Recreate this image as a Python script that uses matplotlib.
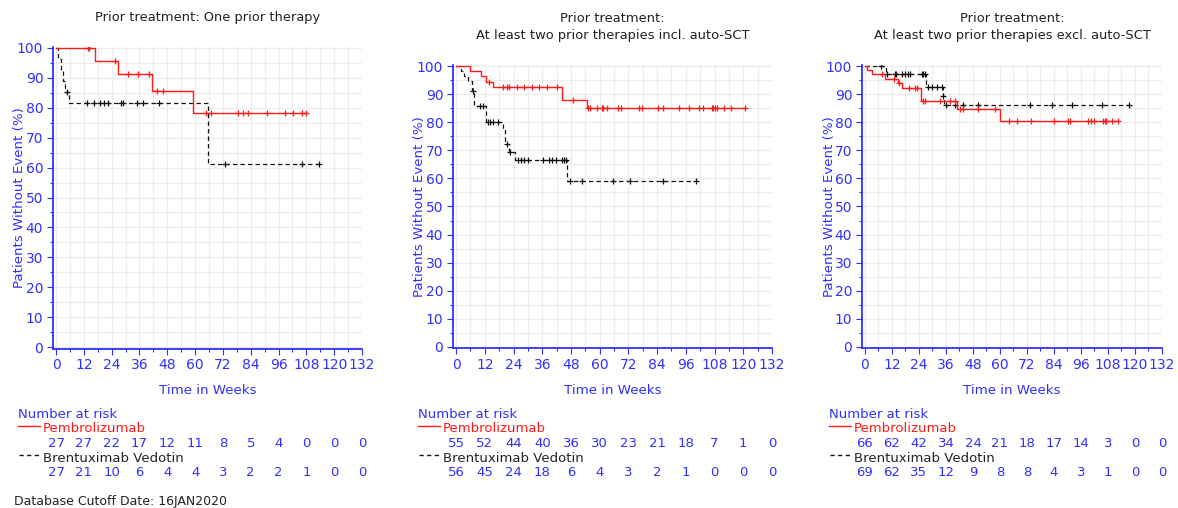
import numpy as np
import matplotlib
matplotlib.use("Agg")
import matplotlib.pyplot as plt
import matplotlib.transforms as mtransforms
from matplotlib.lines import Line2D
from matplotlib.ticker import MultipleLocator

plt.rcParams['font.family'] = ['DejaVu Sans']

# ---------------- data ----------------
titles = ["Prior treatment: One prior therapy",
          "Prior treatment:\n At least two prior therapies incl. auto-SCT",
          "Prior treatment:\n At least two prior therapies excl. auto-SCT"]
arms = ["Pembrolizumab", "Brentuximab Vedotin"]
risk_times = [0, 12, 24, 36, 48, 60, 72, 84, 96, 108, 120, 132]

# Panel 1
p1_pem_t = [0, 16.8, 26.7, 41.3, 59.0]
p1_pem_s = [100, 95.7, 91.2, 85.5, 78.2]
p1_pem_end = 107.8
p1_pem_c = [13.7, 14.2, 25.5, 31.2, 35.2, 40.1, 43.4, 46.3, 64.7, 66.9, 78.6,
            80.8, 83.0, 90.9, 98.8, 102.4, 106.0, 107.8]
p1_bv_t = [0, 1.0, 2.0, 3.0, 4.0, 5.8, 65.7]
p1_bv_s = [100, 96.3, 92.6, 88.9, 85.2, 81.5, 61.1]
p1_bv_end = 113.5
p1_bv_c = [4.6, 13.5, 16.4, 19.0, 20.8, 22.6, 28.0, 29.0, 34.8, 37.7, 44.4,
           72.9, 106.0, 113.5]
p1_pem_risk = [27, 27, 22, 17, 12, 11, 8, 5, 4, 0, 0, 0]
p1_bv_risk = [27, 21, 10, 6, 4, 4, 3, 2, 2, 1, 0, 0]

# Panel 2
p2_pem_t = [0, 6.0, 10.5, 12.5, 15.5, 44.1, 54.6]
p2_pem_s = [100, 98.2, 96.3, 94.4, 92.5, 87.8, 85.1]
p2_pem_end = 120.7
p2_pem_c = [13.9, 19.5, 21.2, 22.3, 25.3, 28.4, 31.6, 34.8, 38.1, 42.3, 48.7,
            55.3, 56.0, 58.8, 60.9, 61.5, 63.2, 67.8, 68.8, 76.6, 77.6, 84.5,
            86.4, 93.3, 97.5, 101.3, 103.0, 106.8, 107.5, 108.2, 108.9, 112.0,
            114.9, 120.7]
p2_bv_t = [0, 2.0, 3.5, 5.0, 6.5, 7.6, 12.6, 19.5, 20.5, 22.0, 24.5, 46.4]
p2_bv_s = [100, 98.2, 96.4, 94.6, 91.0, 85.7, 80.2, 77.3, 72.1, 69.4, 66.5, 59.1]
p2_bv_end = 100.3
p2_bv_c = [7.2, 10.0, 11.1, 13.5, 14.2, 15.6, 17.7, 21.2, 22.6, 26.0, 27.0,
           28.4, 30.2, 36.5, 39.0, 40.0, 41.8, 44.1, 45.1, 46.0, 47.6, 52.5,
           65.7, 72.7, 86.6, 100.3]
p2_pem_risk = [55, 52, 44, 40, 36, 30, 23, 21, 18, 7, 1, 0]
p2_bv_risk = [56, 45, 24, 18, 6, 4, 3, 2, 1, 0, 0, 0]

# Panel 3
p3_pem_t = [0, 0.7, 3.0, 8.9, 14.5, 16.5, 24.8, 41.0, 60.0]
p3_pem_s = [100, 98.5, 97.0, 95.4, 93.8, 92.2, 87.6, 84.6, 80.6]
p3_pem_end = 112.3
p3_pem_c = [7.4, 13.0, 15.0, 19.7, 22.2, 23.0, 25.7, 26.7, 33.4, 37.8, 40.0,
            42.3, 43.7, 50.4, 57.8, 64.2, 67.5, 73.6, 83.8, 90.4, 91.3, 99.0,
            100.5, 101.8, 106.0, 106.6, 107.2, 109.7, 112.3]
p3_bv_t = [0, 9.2, 27.2, 34.6, 35.2]
p3_bv_s = [100, 97.0, 92.7, 89.4, 86.2]
p3_bv_end = 117.4
p3_bv_c = [7.0, 9.7, 13.3, 14.0, 16.3, 17.8, 19.3, 20.0, 25.2, 25.9, 26.7,
           28.2, 29.6, 31.9, 34.1, 34.9, 36.0, 40.0, 43.7, 50.4, 73.2, 83.0,
           92.2, 105.3, 117.4]
p3_pem_risk = [66, 62, 42, 34, 24, 21, 18, 17, 14, 3, 0, 0]
p3_bv_risk = [69, 62, 35, 12, 9, 8, 8, 4, 3, 1, 0, 0]

panels = [
    (p1_pem_t, p1_pem_s, p1_pem_end, p1_pem_c, p1_bv_t, p1_bv_s, p1_bv_end, p1_bv_c, p1_pem_risk, p1_bv_risk),
    (p2_pem_t, p2_pem_s, p2_pem_end, p2_pem_c, p2_bv_t, p2_bv_s, p2_bv_end, p2_bv_c, p2_pem_risk, p2_bv_risk),
    (p3_pem_t, p3_pem_s, p3_pem_end, p3_pem_c, p3_bv_t, p3_bv_s, p3_bv_end, p3_bv_c, p3_pem_risk, p3_bv_risk),
]

# ---------------- layout ----------------
W, H = 1178, 508
BLUE = '#3030ff'
RED = '#ff1a1a'
DARK = '#222222'
GRID = '#ececec'

fig = plt.figure(figsize=(W / 100, H / 100), dpi=100)

# axes boxes in pixels: left, right, top, bottom
boxes = [(53, 362, 46.5, 348.5), (453, 772, 64.6, 348.4), (862, 1162, 64.6, 348.4)]
title_y = [[18], [18, 35], [18, 35]]
legend_x = [18, 418, 829]


def fx(px):
    return px / W


def fy(py):
    return 1 - py / H


def step_lookup(t, s, x):
    idx = np.searchsorted(np.asarray(t), np.asarray(x), side='right') - 1
    return np.asarray(s)[idx]


for i, (pt, ps, pend, pc, bt, bs, bend, bc, prisk, brisk) in enumerate(panels):
    l, r, t, b = boxes[i]
    ax = fig.add_axes([fx(l), fy(b), fx(r - l), (b - t) / H])
    ax.set_xlim(-1.3, 132)
    ax.set_ylim(-0.5, 100.5)
    ax.xaxis.set_major_locator(MultipleLocator(12))
    ax.xaxis.set_minor_locator(MultipleLocator(6))
    ax.yaxis.set_major_locator(MultipleLocator(10))
    ax.yaxis.set_minor_locator(MultipleLocator(5))
    ax.grid(True, which='both', color=GRID, lw=0.9, zorder=0)
    ax.set_axisbelow(True)
    for sp in ['top', 'right']:
        ax.spines[sp].set_visible(False)
    for sp in ['left', 'bottom']:
        ax.spines[sp].set_color(BLUE)
        ax.spines[sp].set_linewidth(1.3)
    ax.tick_params(which='major', length=4, color=BLUE, labelcolor=BLUE,
                   labelsize=10, pad=3, width=0.8)
    ax.tick_params(which='minor', length=2, color=BLUE, width=0.8)

    # Brentuximab (dashed black)
    bx = list(bt) + [bend]
    by = list(bs) + [bs[-1]]
    ax.step(bx, by, where='post', color='#111111', lw=0.9,
            linestyle=(0, (3.5, 2.5)), zorder=3)
    ax.plot(bc, step_lookup(bt, bs, bc), linestyle='none', marker='+',
            ms=5, mew=0.9, color='#111111', zorder=4)
    # Pembrolizumab (solid red)
    px_ = list(pt) + [pend]
    py_ = list(ps) + [ps[-1]]
    ax.step(px_, py_, where='post', color=RED, lw=1.0, zorder=5)
    ax.plot(pc, step_lookup(pt, ps, pc), linestyle='none', marker='+',
            ms=5, mew=0.9, color=RED, zorder=6)

    ax.set_xlabel("Time in Weeks", color=BLUE, fontsize=9.6)
    ax.xaxis.label.set_verticalalignment('center')
    ax.xaxis.set_label_coords(0.5, -(390 - b) / (b - t))
    ax.set_ylabel("Patients Without Event (%)", color=BLUE, fontsize=9.6)
    ax.yaxis.label.set_verticalalignment('center')
    ylab_x = [20, 419, 829][i]
    ax.yaxis.set_label_coords((ylab_x - l) / (r - l), 0.5)

    # title
    cx = (l + r) / 2
    lines = titles[i].split("\n")
    for k, line in enumerate(lines):
        fig.text(fx(cx), fy(title_y[i][k]), line.strip(), ha='center', va='center',
                 fontsize=9.4, color=DARK)

    # risk table
    lx = legend_x[i]
    fig.text(fx(lx), fy(414), "Number at risk", color=BLUE, fontsize=9.5,
             ha='left', va='center')
    fig.add_artist(Line2D([fx(lx), fx(lx + 22)], [fy(426), fy(426)],
                          color=RED, lw=1.0, transform=fig.transFigure))
    fig.text(fx(lx + 25), fy(428.5), arms[0], color=RED, fontsize=9.5,
             ha='left', va='center')
    fig.add_artist(Line2D([fx(lx + 1), fx(lx + 22)], [fy(455), fy(455)],
                          color='#111111', lw=1.0, linestyle=(0, (3, 2.5)),
                          transform=fig.transFigure))
    fig.text(fx(lx + 25), fy(458.5), arms[1], color=DARK, fontsize=9.5,
             ha='left', va='center')
    trans = mtransforms.blended_transform_factory(ax.transData, fig.transFigure)
    for xt, n1, n2 in zip(risk_times, prisk, brisk):
        ax.text(xt, fy(443.5), str(n1), transform=trans, ha='center', va='center',
                color=BLUE, fontsize=9.5, clip_on=False)
        ax.text(xt, fy(473), str(n2), transform=trans, ha='center', va='center',
                color=BLUE, fontsize=9.5, clip_on=False)

fig.text(fx(14), fy(501), "Database Cutoff Date: 16JAN2020", color=DARK,
         fontsize=9.0, ha='left', va='center')

fig.savefig("out.png", dpi=100)
